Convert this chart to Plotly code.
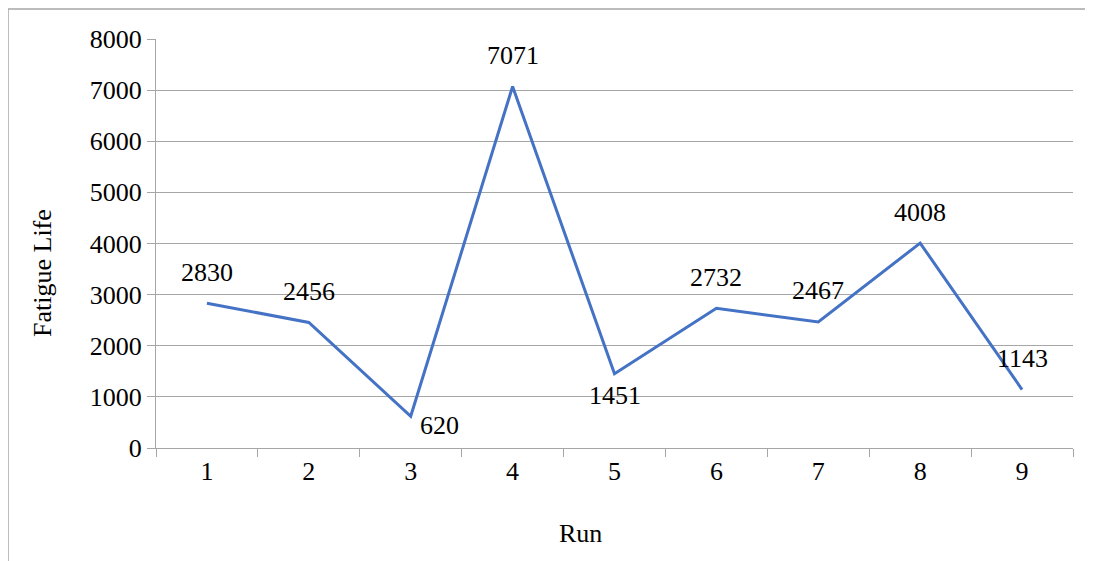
import plotly.graph_objects as go

runs = [1, 2, 3, 4, 5, 6, 7, 8, 9]
run_labels = ["1", "2", "3", "4", "5", "6", "7", "8", "9"]
fatigue_life = [2830, 2456, 620, 7071, 1451, 2732, 2467, 4008, 1143]
y_ticks = [0, 1000, 2000, 3000, 4000, 5000, 6000, 7000, 8000]

FONT = "Liberation Serif"
GRID = "#a6a6a6"
FS = 26

fig = go.Figure()
fig.add_trace(go.Scatter(
    x=runs, y=fatigue_life, mode="lines",
    line=dict(color="#4472C4", width=3),
    hoverinfo="skip", showlegend=False,
))

# data labels (Excel-like positions): (xshift, yshift)
label_shift = {2: (29, -9), 4: (0, -22)}
for i, (r, v) in enumerate(zip(runs, fatigue_life)):
    xs, ys = label_shift.get(i, (0, 31))
    fig.add_annotation(
        x=r, y=v, text=str(v), showarrow=False,
        xshift=xs, yshift=ys,
        font=dict(family=FONT, size=FS, color="#000000"),
    )

# axis titles (positioned as in the original Excel chart)
fig.add_annotation(
    x=0.4624, y=-0.208, xref="paper", yref="paper", text="Run",
    showarrow=False, xanchor="center", yanchor="middle",
    font=dict(family=FONT, size=FS, color="#000000"),
)
fig.add_annotation(
    x=-0.1232, y=0.428, xref="paper", yref="paper", text="Fatigue Life",
    showarrow=False, xanchor="center", yanchor="middle", textangle=-90,
    font=dict(family=FONT, size=FS, color="#000000"),
)

boundaries = [x + 0.5 for x in range(0, 10)]

fig.update_layout(
    width=1085, height=553,
    margin=dict(l=148, r=20, t=31, b=113),
    paper_bgcolor="white", plot_bgcolor="white",
    font=dict(family=FONT, size=FS, color="#000000"),
    xaxis=dict(
        range=[0.5, 9.5], tickvals=runs, ticktext=run_labels,
        ticks="", showline=True, linecolor=GRID, linewidth=1,
        showgrid=False, zeroline=False,
        minor=dict(tickvals=boundaries, ticks="outside", ticklen=8,
                   tickcolor=GRID, tickwidth=1, showgrid=False),
        tickfont=dict(family=FONT, size=FS),
    ),
    yaxis=dict(
        range=[0, 8000], tickvals=y_ticks,
        ticks="outside", ticklen=8, tickcolor=GRID, tickwidth=1,
        showline=True, linecolor=GRID, linewidth=1,
        showgrid=True, gridcolor=GRID, gridwidth=1, zeroline=False,
        tickfont=dict(family=FONT, size=FS),
    ),
    shapes=[dict(
        type="rect", xref="paper", yref="paper",
        x0=-0.1614, x1=1.03, y0=-0.30, y1=1.0733,
        line=dict(color="#a6a6a6", width=1.5), fillcolor="rgba(0,0,0,0)",
        layer="below",
    )],
)

fig.write_html("out.html")
